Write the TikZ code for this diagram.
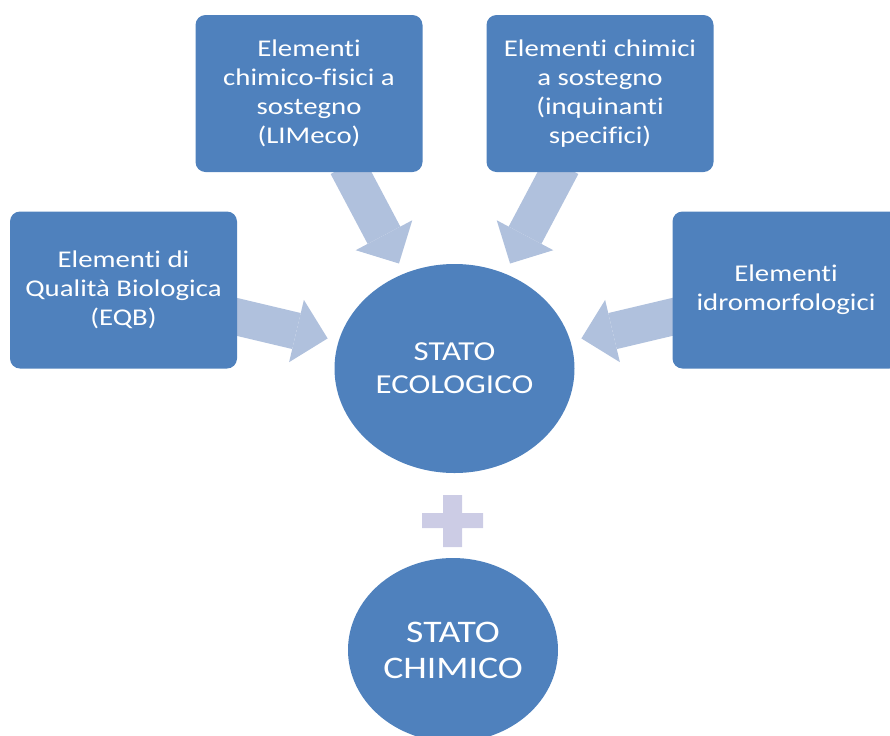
\documentclass[tikz,border=0pt]{standalone}
\usepackage{fontspec}
\setmainfont{Carlito}[FakeStretch=1.2, Ligatures={NoCommon,NoContextual}]
\usetikzlibrary{positioning,shapes.geometric,arrows.meta,backgrounds}
\definecolor{boxblue}{RGB}{79,129,189}
\definecolor{arrblue}{RGB}{176,193,221}
\definecolor{pluslilac}{RGB}{204,204,229}

\begin{document}
\begin{tikzpicture}[x=0.5pt, y=-0.5pt,
    elem/.style={rectangle, rounded corners=5pt, fill=boxblue, text=white, align=center,
                 font=\fontsize{12}{14.5}\selectfont, inner sep=0pt,
                 minimum width=113.5pt, minimum height=78.5pt},
    stato/.style={ellipse, fill=boxblue, text=white, align=center, inner sep=0pt},
    arr/.style={draw=arrblue, line width=18.5pt, shorten <=-4pt, shorten >=5.5pt,
                -{Triangle[length=16pt, width=32pt, line width=0pt, fill=arrblue]}}]
    \useasboundingbox (0,0) rectangle (890,735);
    \clip (0,0) rectangle (890,735);
    % contributing elements
    \node[elem] (eqb) at (123.5,290) {Elementi di\\Qualità Biologica\\(EQB)};
    \node[elem] (limeco) at (309,93.5) {Elementi\\chimico-fisici a\\sostegno\\(LIMeco)};
    \node[elem] (inq) at (600,93.5) {Elementi chimici\\a sostegno\\(inquinanti\\specifici)};
    \node[elem] (idro) at (786,290) {Elementi\\idromorfologici};
    % states
    \node[stato, minimum width=120pt, minimum height=104.5pt,
          font=\fontsize{13.7}{16.5}\selectfont] (eco) at (454.5,368.5) {STATO\\ECOLOGICO};
    \node[stato, minimum width=105pt, minimum height=92pt,
          font=\fontsize{15.7}{18}\selectfont] (chim) at (453,650) {STATO\\CHIMICO};
    \fill[pluslilac] (443,495) rectangle (462,547) (422,513) rectangle (483,528);
    \begin{scope}[on background layer]
        \draw[arr] (eqb) -- (eco); \draw[arr] (limeco) -- (eco);
        \draw[arr] (inq) -- (eco); \draw[arr] (idro) -- (eco);
    \end{scope}
\end{tikzpicture}
\end{document}
